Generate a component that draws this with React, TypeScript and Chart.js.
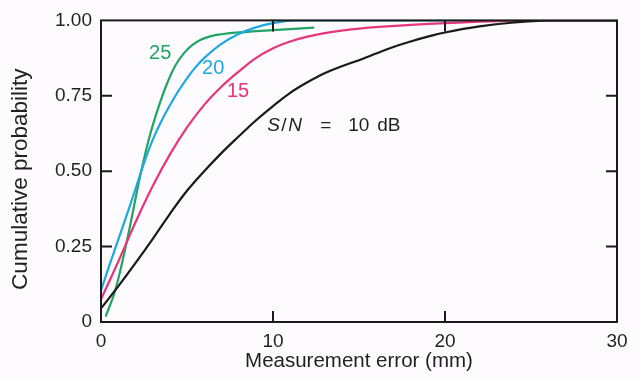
import React, { useEffect, useRef } from "react";
import { Chart, registerables } from "chart.js";

Chart.register(...registerables);

// ---- data ----
const xTickValues = [0, 10, 20, 30];
const yTickValues = [0, 0.25, 0.5, 0.75, 1];
const yTickLabels = ["0", "0.25", "0.50", "0.75", "1.00"];

const snr10X = [0, 1, 2, 3, 4, 5, 6, 7, 8, 9, 10, 11, 12, 13, 14, 15, 16, 17, 18, 19, 20, 22, 24, 26, 30];
const snr10Y = [0.045, 0.118, 0.195, 0.275, 0.358, 0.435, 0.5, 0.56, 0.615, 0.668, 0.716, 0.76, 0.795, 0.825, 0.848, 0.868, 0.89, 0.912, 0.93, 0.946, 0.96, 0.98, 0.993, 1.0, 1.0];

const snr15X = [0, 1, 2, 3, 4, 5, 6, 7, 8, 9, 10, 11, 12, 13, 15, 18, 22, 25, 30];
const snr15Y = [0.075, 0.2, 0.33, 0.45, 0.555, 0.645, 0.72, 0.78, 0.83, 0.875, 0.908, 0.93, 0.946, 0.958, 0.973, 0.985, 0.996, 1.0, 1.0];

const snr20X = [0, 0.5, 1, 1.5, 2, 2.5, 3, 3.5, 4, 4.5, 5, 5.5, 6, 7, 8, 9, 10, 11.4, 30];
const snr20Y = [0.105, 0.19, 0.272, 0.355, 0.44, 0.527, 0.603, 0.665, 0.718, 0.766, 0.808, 0.845, 0.875, 0.922, 0.955, 0.977, 0.991, 1.0, 1.0];

const snr25X = [0.27, 0.8, 1.3, 1.8, 2.3, 2.8, 3.3, 3.8, 4.3, 4.8, 5.3, 5.8, 6.4, 7.0, 8, 10, 12.4];
const snr25Y = [0.018, 0.1, 0.215, 0.35, 0.49, 0.61, 0.705, 0.785, 0.848, 0.89, 0.918, 0.936, 0.948, 0.954, 0.96, 0.968, 0.976];

const curveLabels = ["25", "20", "15"];
const curveLabelX = [3.44, 6.52, 7.97];
const curveLabelY = [0.891, 0.842, 0.763];
const snLabelX = 9.66;
const snLabelY = 0.652;
const yTitle = "Cumulative probability";
const xTitle = "Measurement error (mm)";

const COLORS = {
  snr10: "#1a1a1a",
  snr15: "#e8347c",
  snr20: "#1ea8e0",
  snr25: "#1fa564",
  text: "#231f20",
  bg: "#fdfbfd",
};

const FONT = '"Liberation Sans", Arial, Helvetica, sans-serif';

const toPoints = (xs: number[], ys: number[]) => xs.map((x, i) => ({ x, y: ys[i] }));

const framePlugin = {
  id: "frameAndLabels",
  beforeDraw(chart: any) {
    const { ctx, width, height } = chart;
    ctx.save();
    ctx.fillStyle = COLORS.bg;
    ctx.fillRect(0, 0, width, height);
    ctx.restore();
  },
  afterDatasetsDraw(chart: any) {
    const { ctx, chartArea } = chart;
    const xs = chart.scales.x;
    const ys = chart.scales.y;
    const { left, right, top, bottom } = chartArea;
    ctx.save();
    // frame
    ctx.strokeStyle = "#1a1a1a";
    ctx.lineWidth = 2;
    ctx.strokeRect(left, top, right - left, bottom - top);
    // inner ticks
    const tl = 11;
    ctx.beginPath();
    [10, 20].forEach((v) => {
      const px = xs.getPixelForValue(v);
      ctx.moveTo(px, bottom);
      ctx.lineTo(px, bottom - tl);
      ctx.moveTo(px, top);
      ctx.lineTo(px, top + tl);
    });
    [0.25, 0.5, 0.75].forEach((v) => {
      const py = ys.getPixelForValue(v);
      ctx.moveTo(left, py);
      ctx.lineTo(left + tl, py);
      ctx.moveTo(right, py);
      ctx.lineTo(right - tl, py);
    });
    ctx.stroke();

    // curve labels
    const labelColors = [COLORS.snr25, COLORS.snr20, COLORS.snr15];
    ctx.font = `20px ${FONT}`;
    ctx.textAlign = "center";
    ctx.textBaseline = "middle";
    curveLabels.forEach((t, i) => {
      ctx.fillStyle = labelColors[i];
      ctx.fillText(t, xs.getPixelForValue(curveLabelX[i]), ys.getPixelForValue(curveLabelY[i]));
    });

    // S/N = 10 dB
    const sx = xs.getPixelForValue(snLabelX);
    const sy = ys.getPixelForValue(snLabelY);
    ctx.fillStyle = COLORS.text;
    ctx.textAlign = "left";
    ctx.font = `italic 19px ${FONT}`;
    ctx.fillText("S", sx, sy);
    ctx.font = `19px ${FONT}`;
    ctx.fillText("/", sx + 14, sy);
    ctx.font = `italic 19px ${FONT}`;
    ctx.fillText("N", sx + 21, sy);
    ctx.font = `19px ${FONT}`;
    ctx.fillText("=", sx + 53, sy);
    ctx.fillText("10", sx + 81, sy);
    ctx.fillText("dB", sx + 110, sy);

    // y axis title
    ctx.save();
    ctx.translate(21, (top + bottom) / 2 + 8);
    ctx.rotate(-Math.PI / 2);
    ctx.textAlign = "center";
    ctx.textBaseline = "middle";
    ctx.font = `22.5px ${FONT}`;
    ctx.fillText(yTitle, 0, 0);
    ctx.restore();
    ctx.restore();
  },
};

export default function App() {
  const canvasRef = useRef<HTMLCanvasElement | null>(null);

  useEffect(() => {
    if (!canvasRef.current) return;
    const lineDs = (xs: number[], ys: number[], color: string) => ({
      data: toPoints(xs, ys),
      borderColor: color,
      backgroundColor: color,
      borderWidth: 2.2,
      pointRadius: 0,
      tension: 0.4,
      fill: false,
    });
    const chart = new Chart(canvasRef.current, {
      type: "line",
      data: {
        datasets: [
          lineDs(snr10X, snr10Y, COLORS.snr10),
          lineDs(snr15X, snr15Y, COLORS.snr15),
          lineDs(snr20X, snr20Y, COLORS.snr20),
          lineDs(snr25X, snr25Y, COLORS.snr25),
        ],
      },
      options: {
        animation: false,
        responsive: false,
        maintainAspectRatio: false,
        layout: { padding: { top: 17, right: 23, left: 0, bottom: 0 } },
        plugins: {
          legend: { display: false },
          tooltip: { enabled: false },
        },
        scales: {
          x: {
            type: "linear",
            min: 0,
            max: 30,
            afterFit: (s: any) => {
              s.height = 57;
            },
            afterBuildTicks: (s: any) => {
              s.ticks = xTickValues.map((v) => ({ value: v }));
            },
            grid: { display: false, drawTicks: false },
            border: { display: false },
            ticks: {
              padding: 8,
              color: COLORS.text,
              font: { family: FONT, size: 19 },
              maxRotation: 0,
              callback: (v: any) => String(v),
            },
            title: {
              display: true,
              text: xTitle,
              color: COLORS.text,
              font: { family: FONT, size: 20.5 },
              padding: { top: 0, bottom: 5 },
            },
          },
          y: {
            type: "linear",
            min: 0,
            max: 1,
            afterFit: (s: any) => {
              s.width = 101;
            },
            afterBuildTicks: (s: any) => {
              s.ticks = yTickValues.map((v) => ({ value: v }));
            },
            grid: { display: false, drawTicks: false },
            border: { display: false },
            ticks: {
              padding: 9,
              color: COLORS.text,
              font: { family: FONT, size: 19 },
              callback: (v: any) => {
                const i = yTickValues.indexOf(Number(v));
                return i >= 0 ? yTickLabels[i] : "";
              },
            },
            title: { display: false },
          },
        },
      },
      plugins: [framePlugin],
    });
    return () => chart.destroy();
  }, []);

  return (
    <div style={{ position: "fixed", left: 0, top: 0, width: 640, height: 379, background: COLORS.bg }}>
      <canvas ref={canvasRef} width={640} height={379} style={{ display: "block", width: 640, height: 379 }} />
    </div>
  );
}
